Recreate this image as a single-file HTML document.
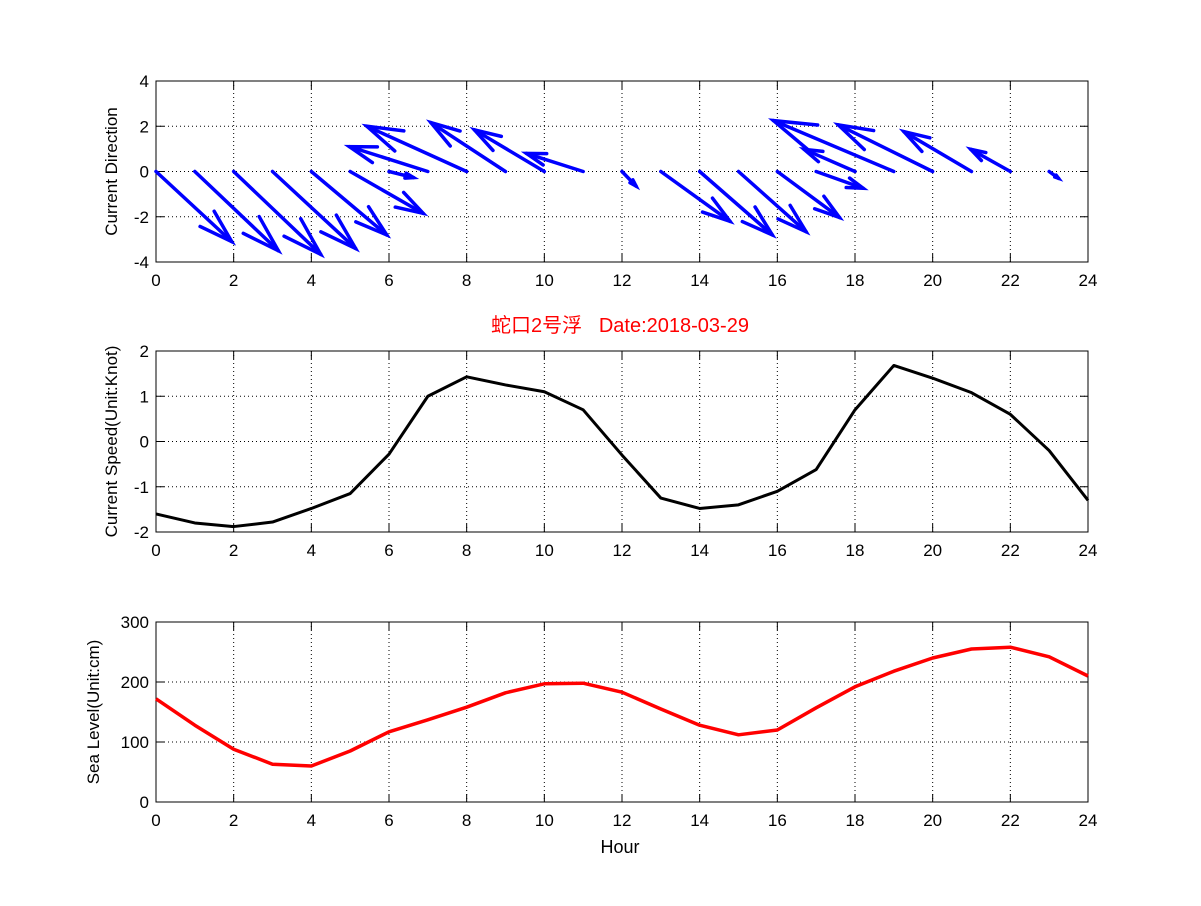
<!DOCTYPE html>
<html><head><meta charset="utf-8"><style>
body{margin:0;background:#fff}
svg text{font-family:"Liberation Sans","Noto Sans CJK SC",sans-serif}
</style></head><body>
<svg id="fig" width="1201" height="901" xmlns="http://www.w3.org/2000/svg"></svg>
<script>
const hours=[0,1,2,3,4,5,6,7,8,9,10,11,12,13,14,15,16,17,18,19,20,21,22,23,24];
const quiverU=[1.95,2.15,2.24,2.14,1.94,1.88,0.63,-2.02,-2.57,-1.92,-1.8,-1.46,0.36,1.78,1.87,1.74,1.6,1.21,-1.31,-3.1,-2.43,-1.74,-1.02,0.24,0];
const quiverV=[-3.1,-3.5,-3.66,-3.4,-2.8,-1.85,-0.27,1.1,2.0,2.16,1.84,0.8,-0.64,-2.2,-2.8,-2.66,-2.03,-0.74,0.98,2.25,2.06,1.76,0.98,-0.3,0];
const speed=[-1.6,-1.8,-1.88,-1.78,-1.48,-1.15,-0.28,1.0,1.43,1.25,1.1,0.7,-0.3,-1.25,-1.48,-1.4,-1.1,-0.62,0.7,1.68,1.4,1.08,0.6,-0.2,-1.3];
const seaLevel=[172,128,88,63,60,85,117,137,158,182,197,198,183,155,128,112,120,157,192,218,240,255,258,242,210];
const xTicks=[0,2,4,6,8,10,12,14,16,18,20,22,24];
const yTicks1=[-4,-2,0,2,4];
const yTicks2=[-2,-1,0,1,2];
const yTicks3=[0,100,200,300];

const NS="http://www.w3.org/2000/svg";
const svg=document.getElementById('fig');
function el(t,a,p){const e=document.createElementNS(NS,t);for(const k in a)e.setAttribute(k,a[k]);(p||svg).appendChild(e);return e;}
const X0=156,X1=1088;
const xs=h=>X0+(h-0)/24*(X1-X0);

function axes(name,top,bot,ymin,ymax,yt,ylabel){
  const g=el('g',{});
  
  
  const ys=v=>bot-(v-ymin)/(ymax-ymin)*(bot-top);
  el('rect',{x:X0,y:top,width:X1-X0,height:bot-top,fill:'#fff'},g);
  xTicks.forEach(t=>{
    if(t>0&&t<24)el('line',{x1:xs(t),x2:xs(t),y1:top,y2:bot,stroke:'#000','stroke-width':1,'stroke-dasharray':'1,3'},g);
    el('line',{x1:xs(t),x2:xs(t),y1:bot,y2:bot-8,stroke:'#000'},g);
    el('line',{x1:xs(t),x2:xs(t),y1:top,y2:top+8,stroke:'#000'},g);
    const tx=el('text',{x:xs(t),y:bot+24,'font-size':17,'text-anchor':'middle'},g);tx.textContent=t;
  });
  yt.forEach(t=>{
    const y=ys(t);
    if(t>ymin&&t<ymax)el('line',{x1:X0,x2:X1,y1:y,y2:y,stroke:'#000','stroke-dasharray':'1,3'},g);
    el('line',{x1:X0,x2:X0+8,y1:y,y2:y,stroke:'#000'},g);
    el('line',{x1:X1,x2:X1-8,y1:y,y2:y,stroke:'#000'},g);
    const tx=el('text',{x:X0-7,y:y+6,'font-size':17,'text-anchor':'end'},g);tx.textContent=t;
  });
  el('rect',{x:X0,y:top,width:X1-X0,height:bot-top,fill:'none',stroke:'#000','stroke-width':1},g);
  const yl=el('text',{x:0,y:0,'font-size':17,'text-anchor':'middle',transform:`translate(${name==='sea-level-axes'?99:117},${(top+bot)/2}) rotate(-90)`},g);
  yl.textContent=ylabel;
  
  
  return ys;
}

// Plot 1 quiver
const ys1=axes('current-direction-axes',81,262,-4,4,yTicks1,'Current Direction');
hours.forEach((h,i)=>{
  const u=quiverU[i],v=quiverV[i];
  if(u===0&&v===0)return;
  const x1=xs(h),y1=ys1(0),x2=xs(h+u),y2=ys1(v);
  const dx=x2-x1,dy=y2-y1,L=Math.hypot(dx,dy),ang=Math.atan2(dy,dx);
  const hl=L*0.34,a=0.3;
  const g=el('g',{stroke:'#0000ff','stroke-width':3.5,fill:'none','stroke-linecap':'round'});
  
  
  el('line',{x1:x1,y1:y1,x2:x2,y2:y2},g);
  el('polyline',{points:`${x2-hl*Math.cos(ang-a)},${y2-hl*Math.sin(ang-a)} ${x2},${y2} ${x2-hl*Math.cos(ang+a)},${y2-hl*Math.sin(ang+a)}`},g);
});

// Title
const title=el('text',{x:620,y:332,'font-size':20,fill:'#ff0000','text-anchor':'middle'});
title.textContent='蛇口2号浮\u00a0\u00a0\u00a0Date:2018-03-29';



// Plot 2
const ys2=axes('current-speed-axes',351,532,-2,2,yTicks2,'Current Speed(Unit:Knot)');
const p2=el('polyline',{points:hours.map((h,i)=>xs(h)+','+ys2(speed[i])).join(' '),fill:'none',stroke:'#000','stroke-width':3,'stroke-linejoin':'round'});



// Plot 3
const ys3=axes('sea-level-axes',622,802,0,300,yTicks3,'Sea Level(Unit:cm)');
const p3=el('polyline',{points:hours.map((h,i)=>xs(h)+','+ys3(seaLevel[i])).join(' '),fill:'none',stroke:'#ff0000','stroke-width':3.5,'stroke-linejoin':'round'});


const xl=el('text',{x:620,y:853,'font-size':18,'text-anchor':'middle'});
xl.textContent='Hour';


</script>
</body></html>
